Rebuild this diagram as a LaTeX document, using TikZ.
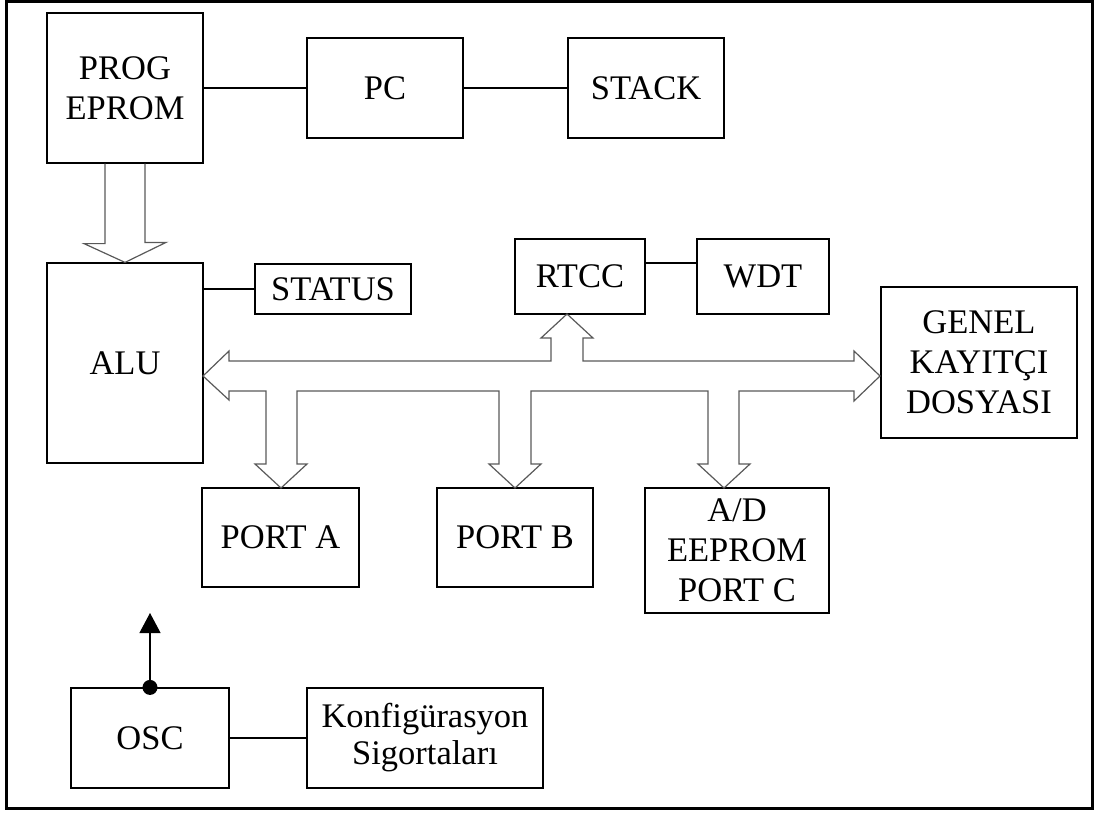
\documentclass[tikz,border=0pt]{standalone}
\usepackage{fontspec}
\setmainfont{Liberation Serif}
\usetikzlibrary{arrows,arrows.meta,positioning}
\tikzstyle{blk}=[draw, line width=1.2pt, inner sep=0pt, align=center, font=\fontsize{34.5}{40}\selectfont]
\tikzstyle{tight}=[font=\fontsize{34.5}{37}\selectfont]
\tikzstyle{bus}=[draw=black!65, line width=1.2pt, line join=miter]
\begin{document}
\begin{tikzpicture}[x=1pt,y=-1pt,>={Triangle[length=20pt,width=21pt]}]
		    \useasboundingbox (0,0) rectangle (1094,814);
		    \draw[line width=3pt] (6,1.5) rectangle (1092,808.5);
		    \node [blk,minimum width=156,minimum height=150] (prog) at (125,88) {PROG\\EPROM};
		    \node [blk,minimum width=156,minimum height=100] (pc) [right of=prog,node distance=260pt] {PC};
		    \node [blk,minimum width=156,minimum height=100] (stk) [right of=pc,node distance=261pt] {STACK};
		    \node [blk,minimum width=156,minimum height=200] (alu) at (125,363) {ALU};
		    \node [blk,minimum width=156,minimum height=50] (status) at (333,289) {STATUS};
		    \node [blk,minimum width=130,minimum height=75] (rtcc) at (580,276.5) {RTCC};
		    \node [blk,minimum width=132,minimum height=75] (wdt) [right of=rtcc,node distance=183pt] {WDT};
		    \node [blk,minimum width=196,minimum height=151] (reg) at (979,362.5) {GENEL\\KAYITÇI\\DOSYASI};
		    \node [blk,minimum width=157,minimum height=99] (porta) at (280.5,537.5) {PORT A};
		    \node [blk,minimum width=156,minimum height=99] (portb) at (515,537.5) {PORT B};
		    \node [blk,minimum width=184,minimum height=125] (adc) at (737,550.5) {A/D\\EEPROM\\PORT C};
		    \node [blk,minimum width=158,minimum height=100] (osc) at (150,738) {OSC};
		    \node [blk,tight,minimum width=236,minimum height=100] (cfg) [right of=osc,node distance=275pt] {Konfigürasyon\\Sigortaları};
		    \coordinate (clk) at (150,613);
		    \path[line width=1.2pt]
		    (prog) edge (pc)
		    (pc) edge (stk)
		    (osc) edge (cfg)
		    (status.west) edge (status.west -| alu.east)
		    ([yshift=13.5pt]rtcc.east) edge ([yshift=13.5pt]rtcc.east -| wdt.west);
		    \draw[->,line width=1.2pt] (osc.north) -- (clk);
		    \fill (osc.north) circle (7.5);
		    % program bus to ALU
		    \draw[bus] ([xshift=-20pt]prog.south) -- ++(0,80) -- ++(-21,0) -- (alu.north) -- ++(41,-20) -- ++(-21,0) -- ([xshift=20pt]prog.south);
		    % data bus
		    \draw[bus] (229,361) -- (551,361) -- (551,338) -- (541,338) -- (567,314) -- (593,338) -- (583,338) -- (583,361)
		    -- (854,361) -- (854,351) -- (880,376) -- (854,401) -- (854,391)
		    -- (739,391) -- (739,464) -- (750,464) -- (724,488) -- (698,464) -- (708,464) -- (708,391)
		    -- (531,391) -- (531,464) -- (541,464) -- (515,488) -- (489,464) -- (499,464) -- (499,391)
		    -- (297,391) -- (297,464) -- (307,464) -- (281,488) -- (255,464) -- (266,464) -- (266,391)
		    -- (229,391) -- (229,400) -- (203,376) -- (229,351) -- cycle;
		\end{tikzpicture}
\end{document}
